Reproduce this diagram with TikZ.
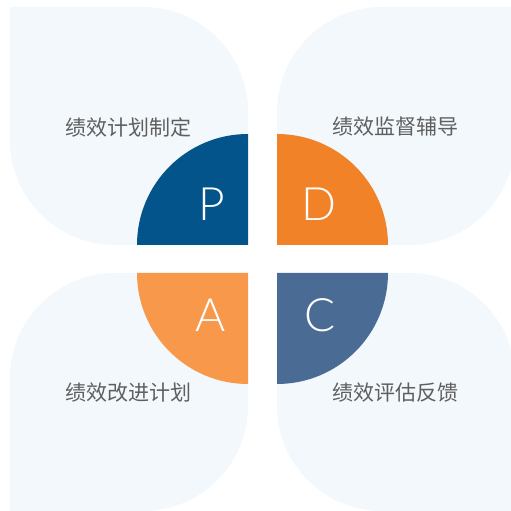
\documentclass[tikz,border=0pt]{standalone}
\usepackage{fontspec}
\newfontfamily\cjk{Noto Sans CJK SC}
\newfontfamily\letterfont{Lato}[UprightFont=* Light]
\definecolor{petal}{RGB}{242,248,252}
\definecolor{pblue}{RGB}{2,84,139}
\definecolor{dorange}{RGB}{242,130,39}
\definecolor{aorange}{RGB}{247,152,75}
\definecolor{cslate}{RGB}{74,107,147}
\definecolor{txtgray}{RGB}{95,95,95}
\tikzset{
  petalshape/.style={fill=petal, draw=none},
  quarter/.style={draw=none},
  letter/.style={text=white, font=\letterfont\fontsize{46}{46}\selectfont, inner sep=0pt},
  label/.style={text=txtgray, font=\cjk\fontsize{21}{21}\selectfont, inner sep=0pt}
}
\begin{document}
\begin{tikzpicture}[x=1pt,y=1pt]
\useasboundingbox (0,0) rectangle (511,511);
% petals
\path[petalshape] (10,504) -- (143,504) arc (90:0:105) -- (248,266) -- (115,266) arc (270:180:105) -- cycle;
\path[petalshape] (277,266) -- (277,399) arc (180:90:105) -- (515,504) -- (515,371) arc (0:-90:105) -- cycle;
\path[petalshape] (10,0) -- (10,133) arc (180:90:105) -- (248,238) -- (248,105) arc (0:-90:105) -- cycle;
\path[petalshape] (277,238) -- (410,238) arc (90:0:105) -- (515,0) -- (382,0) arc (270:180:105) -- cycle;
% quarter circles
\fill[pblue] (248,266) -- (137,266) arc (180:90:111) -- cycle;
\fill[dorange] (277,266) -- (277,377) arc (90:0:111) -- cycle;
\fill[aorange] (248,238) -- (248,127) arc (270:180:111) -- cycle;
\fill[cslate] (277,238) -- (388,238) arc (0:-90:111) -- cycle;
% letters
\node[letter] (P) at (212,307) {P};
\node[letter] (D) at (319,306.5) {D};
\node[letter] (A) at (211,196) {A};
\node[letter] (C) at (320,196) {C};
% labels
\node[label] (plan) at (128.5,384) {绩效计划制定};
\node[label] (do) at (395.5,384) {绩效监督辅导};
\node[label] (act) at (128.5,118.5) {绩效改进计划};
\node[label] (check) at (395.5,118) {绩效评估反馈};
\end{tikzpicture}
\end{document}
